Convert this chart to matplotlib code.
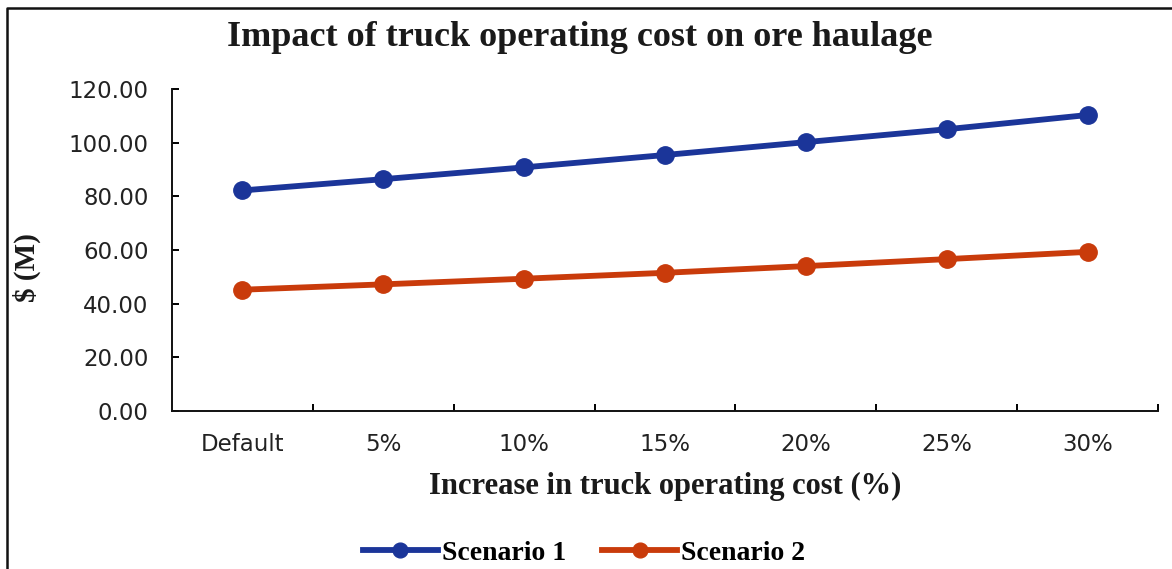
import numpy as np
import matplotlib.pyplot as plt
from matplotlib.lines import Line2D
from matplotlib.ticker import FixedLocator, FuncFormatter

# data
categories = ["Default", "5%", "10%", "15%", "20%", "25%", "30%"]
scenario_1 = [82.2, 86.4, 90.8, 95.4, 100.2, 105.0, 110.3]
scenario_2 = [45.2, 47.2, 49.3, 51.5, 54.0, 56.6, 59.3]
y_ticks = [0, 20, 40, 60, 80, 100, 120]

blue = "#1b3599"
red = "#c93b0b"
serif = "Liberation Serif"

fig = plt.figure(figsize=(11.72, 5.69), dpi=100)
ax = fig.add_axes([172 / 1172, 1 - 411 / 569, 986 / 1172, 322 / 569])

x = np.arange(len(categories))
ax.plot(x, scenario_1, color=blue, lw=4.2, marker="o", ms=12.5, label="Scenario 1")
ax.plot(x, scenario_2, color=red, lw=4.2, marker="o", ms=12.5, label="Scenario 2")

ax.set_xlim(-0.5, len(categories) - 0.5)
ax.set_ylim(0, 120)

# axes look: only left and bottom spines
for s in ["top", "right"]:
    ax.spines[s].set_visible(False)
for s in ["left", "bottom"]:
    ax.spines[s].set_linewidth(1.4)
    ax.spines[s].set_color("#111111")

ax.set_yticks(y_ticks)
ax.yaxis.set_major_formatter(FuncFormatter(lambda v, p: f"{v:.2f}"))
ax.tick_params(axis="y", direction="in", length=5, width=1.4, pad=17,
               labelsize=16.5, labelcolor="#222222")

ax.set_xticks(x)
ax.set_xticklabels(categories)
ax.tick_params(axis="x", which="major", length=0, pad=16, labelsize=16.5,
               labelcolor="#222222")
ax.xaxis.set_minor_locator(FixedLocator(np.arange(0.5, len(categories), 1.0)))
ax.tick_params(axis="x", which="minor", direction="in", length=5, width=1.4)

fig.text(580 / 1172, 1 - 38 / 569, "Impact of truck operating cost on ore haulage",
         family=serif, weight="bold", fontsize=26, ha="center", va="center",
         color="#1a1a1a")
fig.text(665 / 1172, 1 - 486 / 569, "Increase in truck operating cost (%)",
         family=serif, weight="bold", fontsize=22, ha="center", va="center",
         color="#1a1a1a")
fig.text(27 / 1172, 1 - 268 / 569, "$ (M)", family=serif, weight="bold",
         fontsize=21, rotation=90, ha="center", va="center", color="#1a1a1a")

fig.legend(loc="center", bbox_to_anchor=(584 / 1172, 1 - 553 / 569), ncol=2,
           frameon=False, prop={"family": serif, "weight": "bold", "size": 20},
           handlelength=2.7, handletextpad=0.15, columnspacing=1.3,
           markerscale=0.85)

# frame around the picture (left and top edges only visible)
fx = 7 / 1172
fy = 1 - 8 / 569
fig.add_artist(Line2D([fx, fx, 1.0], [0.0, fy, fy], transform=fig.transFigure,
                      color="#111111", lw=1.8))

fig.savefig("out.png", dpi=100)
